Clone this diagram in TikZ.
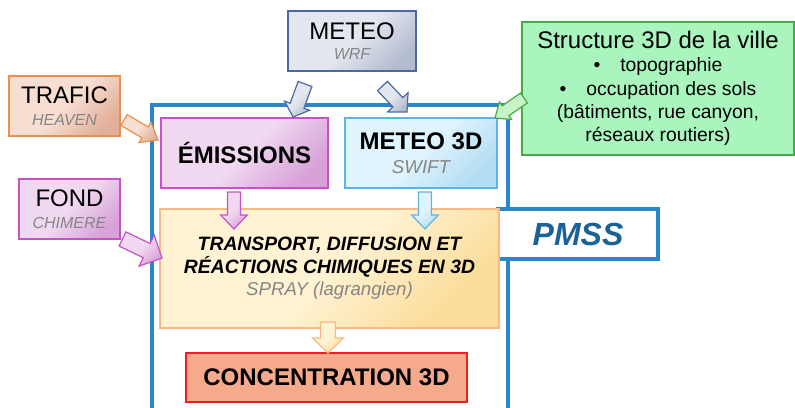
\documentclass[tikz,border=0pt]{standalone}
\usepackage{fontspec}
\setmainfont{Liberation Sans}
\usetikzlibrary{calc}
\definecolor{FrameBlue}{HTML}{2A86C8}
\definecolor{PmssText}{HTML}{1B6296}
\definecolor{MeteoLight}{HTML}{E4E7EF}
\definecolor{MeteoDark}{HTML}{B4BDD0}
\definecolor{MeteoLine}{HTML}{4A6AA5}
\definecolor{TraficLight}{HTML}{F7DED0}
\definecolor{TraficDark}{HTML}{E2B09A}
\definecolor{TraficLine}{HTML}{E8904E}
\definecolor{EmisLight}{HTML}{F0D8F0}
\definecolor{EmisDark}{HTML}{D8A2D8}
\definecolor{EmisLine}{HTML}{C850C8}
\definecolor{SwiftLight}{HTML}{E0F4FD}
\definecolor{SwiftDark}{HTML}{B4DDF2}
\definecolor{SwiftLine}{HTML}{5AB4E6}
\definecolor{SprayLight}{HTML}{FFF3D4}
\definecolor{SprayDark}{HTML}{FBDC98}
\definecolor{SprayLine}{HTML}{F9B984}
\definecolor{ConcFill}{HTML}{F5AA8C}
\definecolor{ConcLine}{HTML}{F02020}
\definecolor{VilleFill}{HTML}{AAF5BE}
\definecolor{VilleLine}{HTML}{46AA46}
\definecolor{VilleArrow}{HTML}{C8F3C8}
\definecolor{SubGrey}{HTML}{858585}

\tikzset{arrshaft/.store in=\arrshaft, arrwing/.store in=\arrwing,
         arrhead/.store in=\arrhead,
         arrshaft=5pt, arrwing=10pt, arrhead=10pt}

% fleche "bloc" de #3 vers #4
\newcommand\blockarrow[4][]{%
  \begin{scope}[#1]
    \coordinate (neck) at ($(#4)!\arrhead!(#3)$);
    \draw[#2] ($(#3)!\arrshaft!90:(#4)$) -- ($(neck)!\arrshaft!90:(#4)$)
      -- ($(neck)!\arrwing!90:(#4)$) -- (#4)
      -- ($(neck)!\arrwing!-90:(#4)$) -- ($(neck)!\arrshaft!-90:(#4)$)
      -- ($(#3)!\arrshaft!-90:(#4)$) -- cycle;
  \end{scope}}

\begin{document}
\begin{tikzpicture}[x=0.75pt, y=-0.75pt,
    box/.style={draw, line width=1pt, align=center, inner sep=0pt},
    dims/.style 2 args={minimum width=#1*0.75pt, minimum height=#2*0.75pt},
    grad/.style 2 args={top color=#1, bottom color=#2, middle color=#1, shading angle=45},
    barrow/.style={line width=0.9pt, line join=miter}]

    \useasboundingbox (0,0) rectangle (795,407);

    % cadre PMSS
    \draw[FrameBlue, line width=2.8pt] (152,415) -- (152,105) -- (508,105) -- (508,415);
    \node[draw=FrameBlue, line width=2.8pt, fill=white, dims={160}{50}, inner sep=0pt,
          text=PmssText, font=\fontsize{24}{28}\selectfont\bfseries\itshape]
          (pmss) at (578,234) {PMSS};

    % entrees
    \node[box, dims={128}{60}, draw=MeteoLine, grad={MeteoLight}{MeteoDark},
          font=\fontsize{18}{15}\selectfont] (meteo) at (352,41)
          {METEO\\ {\fontsize{12}{15}\selectfont\itshape\color{SubGrey}WRF}};
    \node[box, dims={111}{60}, draw=TraficLine, grad={TraficLight}{TraficDark},
          font=\fontsize{18}{16}\selectfont] (trafic) at (64.5,106)
          {TRAFIC\\ {\fontsize{12}{16}\selectfont\itshape\color{SubGrey}HEAVEN}};
    \node[box, dims={101}{60}, draw=EmisLine, grad={EmisLight}{EmisDark},
          font=\fontsize{18}{16.5}\selectfont] (fond) at (69.5,209)
          {FOND\\ {\fontsize{12}{16.5}\selectfont\itshape\color{SubGrey}CHIMERE}};
    \node[box, dims={272}{133}, draw=VilleLine, fill=VilleFill,
          font=\fontsize{18}{17.4}\selectfont] (ville) at (658,88.5)
          {Structure 3D de la ville\\
           {\fontsize{14.5}{17.4}\selectfont •\hspace{15pt}topographie}\\
           {\fontsize{14.5}{17.4}\selectfont •\hspace{15pt}occupation des sols}\\
           {\fontsize{14.5}{17.4}\selectfont (bâtiments, rue canyon,}\\
           {\fontsize{14.5}{17.4}\selectfont réseaux routiers)}};

    % modules PMSS
    \node[box, dims={167}{70}, draw=EmisLine, grad={EmisLight}{EmisDark},
          font=\fontsize{18}{20}\selectfont\bfseries] (emis) at (244.5,153) {ÉMISSIONS};
    \node[box, dims={152}{70}, draw=SwiftLine, grad={SwiftLight}{SwiftDark},
          font=\fontsize{18}{18}\selectfont\bfseries] (swift) at (421,153)
          {METEO 3D\\ {\fontsize{14}{18}\selectfont\mdseries\itshape\color{SubGrey}SWIFT}};
    \node[box, dims={339}{119}, draw=SprayLine, grad={SprayLight}{SprayDark},
          font=\fontsize{14.5}{16.8}\selectfont\bfseries\itshape] (spray) at (329.5,268.5)
          {TRANSPORT, DIFFUSION ET\\ RÉACTIONS CHIMIQUES EN 3D\\
           {\fontsize{14}{16.8}\selectfont\mdseries\color{SubGrey}SPRAY (lagrangien)}};
    \node[box, dims={281}{49}, draw=ConcLine, fill=ConcFill,
          font=\fontsize{18}{20}\selectfont\bfseries] (conc) at (326.5,377.5) {CONCENTRATION 3D};

    % extremites des fleches
    \coordinate (trafic-out) at (124,120);   \coordinate (emis-in1) at (158,140);
    \coordinate (meteo-out1) at (305,84);    \coordinate (emis-in2) at (293,117);
    \coordinate (meteo-out2) at (382.5,86);  \coordinate (swift-in) at (407,112);
    \coordinate (ville-out) at (524,98);     \coordinate (swift-in2) at (495,118);
    \coordinate (fond-out) at (122.5,239);   \coordinate (spray-in1) at (162,258);
    \coordinate (emis-out) at (234,192);     \coordinate (spray-in2) at (234,229);
    \coordinate (swift-out) at (425,192);    \coordinate (spray-in3) at (425,229);
    \coordinate (spray-out) at (328,322);    \coordinate (conc-in) at (328,353);

    \blockarrow[arrshaft=4.7pt, arrwing=8.8pt, arrhead=11.3pt]
      {barrow, draw=TraficLine, grad={TraficLight}{TraficDark}}{trafic-out}{emis-in1}
    \blockarrow[arrshaft=5.5pt, arrwing=10pt, arrhead=9pt]
      {barrow, draw=MeteoLine, grad={MeteoLight}{MeteoDark}}{meteo-out1}{emis-in2}
    \blockarrow[arrshaft=5.1pt, arrwing=10.5pt, arrhead=10pt]
      {barrow, draw=MeteoLine, grad={MeteoLight}{MeteoDark}}{meteo-out2}{swift-in}
    \blockarrow[arrshaft=4.5pt, arrwing=8pt, arrhead=9.6pt]
      {barrow, draw=VilleLine, fill=VilleArrow}{ville-out}{swift-in2}
    \blockarrow[arrshaft=5.9pt, arrwing=13pt, arrhead=12.8pt]
      {barrow, draw=EmisLine, grad={EmisLight}{EmisDark}}{fond-out}{spray-in1}
    \blockarrow[arrshaft=4.9pt, arrwing=10pt, arrhead=10.5pt]
      {barrow, draw=EmisLine, grad={EmisLight}{EmisDark}}{emis-out}{spray-in2}
    \blockarrow[arrshaft=4.9pt, arrwing=10pt, arrhead=10.5pt]
      {barrow, draw=SwiftLine, grad={SwiftLight}{SwiftDark}}{swift-out}{spray-in3}
    \blockarrow[arrshaft=5.6pt, arrwing=11.6pt, arrhead=11.3pt]
      {barrow, draw=SprayLine, grad={SprayLight}{SprayDark}}{spray-out}{conc-in}
\end{tikzpicture}
\end{document}
